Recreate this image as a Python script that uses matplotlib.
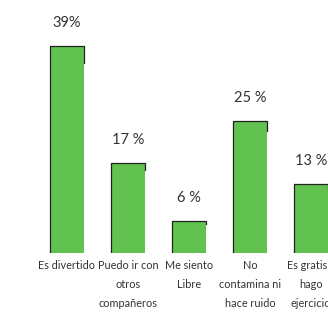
import matplotlib.pyplot as plt

categorias = ["Es divertido", "Puedo ir con\notros\ncompañeros", "Me siento\nLibre",
              "No\ncontamina ni\nhace ruido", "Es gratis y\nhago\nejercicio"]
valores = [39, 17, 6, 25, 13]
etiquetas = ["39%", "17 %", "6 %", "25 %", "13 %"]

plt.rcParams['font.family'] = ['Lato', 'DejaVu Sans']

fig = plt.figure(figsize=(3.28, 3.12), dpi=100)
ax = fig.add_axes([0, 59 / 312, 1, 253 / 312])

x = list(range(len(valores)))
barras = ax.bar(x, valores, width=0.57, color='#62c250', edgecolor='none')

# contorno "a mano" en la parte de arriba y a la izquierda
for b in barras:
    x0, w, h = b.get_x(), b.get_width(), b.get_height()
    ax.plot([x0, x0, x0 + w, x0 + w], [0, h, h, h * 0.92], color='#222222', lw=0.9)

for xi, v, t in zip(x, valores, etiquetas):
    ax.text(xi, v + 3.0, t, ha='center', va='bottom', fontsize=10.5, color='#333333')

ax.set_xlim(-67 / 61, (328 - 67) / 61)
ax.set_ylim(0, 253 / 5.3)
ax.set_xticks(x)
ax.set_xticklabels(categorias, fontsize=7.8, color='#333333', linespacing=1.9)
ax.tick_params(axis='x', length=0, pad=5)
ax.set_yticks([])
for s in ax.spines.values():
    s.set_visible(False)

plt.savefig("out.png", dpi=100)
